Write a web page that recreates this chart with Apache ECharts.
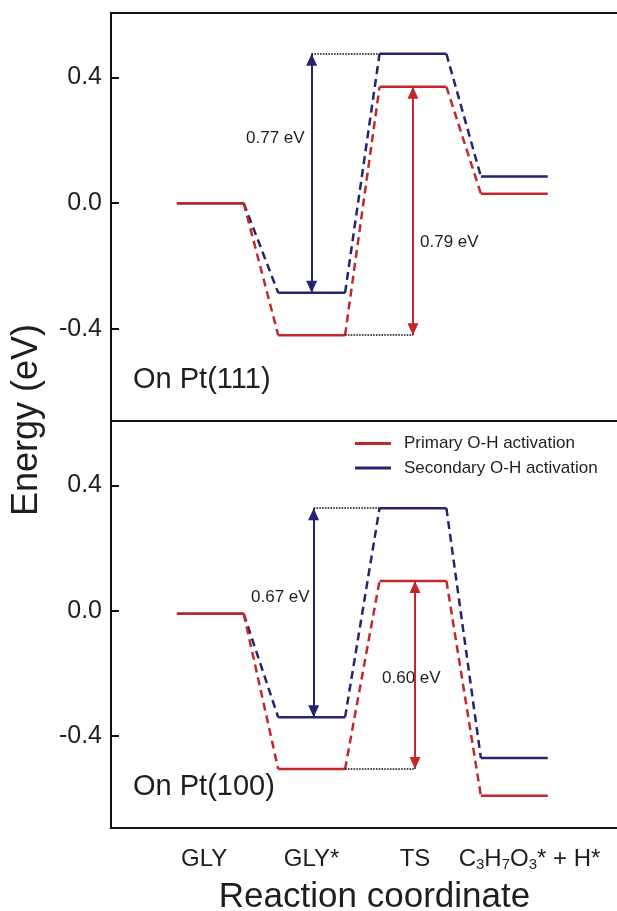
<!DOCTYPE html>
<html>
<head>
<meta charset="utf-8">
<script src="https://cdn.jsdelivr.net/npm/echarts@6/dist/echarts.min.js"></script>
<style>
  html, body { margin: 0; padding: 0; background: #fff; }
  #chart { width: 617px; height: 911px; }
</style>
</head>
<body>
<div id="chart"></div>
<script>
// data
const stages = ['GLY', 'GLY*', 'TS', 'C3H7O3* + H*'];
const pt111Primary = [0.00, -0.42, 0.37, 0.03];
const pt111Secondary = [0.00, -0.285, 0.475, 0.085];
const pt100Primary = [-0.01, -0.505, 0.095, -0.59];
const pt100Secondary = [-0.01, -0.34, 0.327, -0.47];
const barrier111 = ['0.77 eV', '0.79 eV'];
const barrier100 = ['0.67 eV', '0.60 eV'];
const yTicks = [-0.4, 0.0, 0.4];

const RED = '#c1272d';
const BLUE = '#26236f';
const INK = '#1e1e1e';
const FONT = 'Arial, "Liberation Sans", Helvetica, sans-serif';
const HALF = 0.33; // half width of a level
const X_MIN = 0.02, X_MAX = 5.043;
const labelAt = [0.94, 2.0, 3.02, 4.15]; // where the stage names sit
const HEAD = [11, 12]; // arrow head size

// level segments, broken with '-'
function levelData(vals) {
  const out = [];
  vals.forEach((v, i) => {
    if (i) out.push('-');
    out.push([i + 1 - HALF, v], [i + 1 + HALF, v]);
  });
  return out;
}

// dashed links between neighbouring levels
function linkData(vals) {
  const out = [];
  for (let i = 0; i < vals.length - 1; i++) {
    if (i) out.push('-');
    out.push([i + 1 + HALF, vals[i]], [i + 2 - HALF, vals[i + 1]]);
  }
  return out;
}

function shaftMark(color, x, y0, y1) {
  return {
    silent: true,
    animation: false,
    symbol: ['none', 'none'],
    label: { show: false },
    emphasis: { disabled: true },
    lineStyle: { color: color, width: 2, type: 'solid' },
    data: [[{ coord: [x, y0] }, { coord: [x, y1] }]]
  };
}

function dotMark(x0, x1, y) {
  return {
    silent: true,
    animation: false,
    symbol: ['none', 'none'],
    label: { show: false },
    emphasis: { disabled: true },
    lineStyle: { color: '#111', width: 1.7, type: [1.6, 1.2] },
    data: [[{ coord: [x0, y] }, { coord: [x1, y] }]]
  };
}

// two heads of a double arrow: tip up at the high end, tip down at the low end
function heads(gi, color, x, lo, hi) {
  return {
    type: 'scatter', xAxisIndex: gi, yAxisIndex: gi, silent: true, animation: false,
    symbol: 'triangle', symbolSize: HEAD,
    itemStyle: { color: color, opacity: 1 },
    data: [
      { value: [x, hi], symbolRotate: 0, symbolOffset: [0, HEAD[1] / 2] },
      { value: [x, lo], symbolRotate: 180, symbolOffset: [0, -HEAD[1] / 2] }
    ]
  };
}

function panelSeries(gi, primary, secondary, shift) {
  const base = { type: 'line', xAxisIndex: gi, yAxisIndex: gi, symbol: 'none', silent: true, animation: false };
  const blueX = 2 + shift, redX = 3 + shift;
  return [
    Object.assign({}, base, {
      name: 'Secondary O-H activation',
      data: levelData(secondary),
      lineStyle: { color: BLUE, width: 2.5 },
      itemStyle: { color: BLUE },
      markLine: shaftMark(BLUE, blueX, secondary[1], secondary[2])
    }),
    Object.assign({}, base, {
      name: 'Secondary O-H activation',
      data: linkData(secondary),
      lineStyle: { color: BLUE, width: 2.5, type: [8, 5] },
      itemStyle: { color: BLUE },
      markLine: dotMark(blueX, 3 - HALF, secondary[2])
    }),
    Object.assign({}, base, {
      name: 'Primary O-H activation',
      data: levelData(primary),
      lineStyle: { color: RED, width: 2.5 },
      itemStyle: { color: RED },
      markLine: shaftMark(RED, redX, primary[1], primary[2])
    }),
    Object.assign({}, base, {
      name: 'Primary O-H activation',
      data: linkData(primary),
      lineStyle: { color: RED, width: 2.5, type: [8, 5] },
      itemStyle: { color: RED },
      markLine: dotMark(2 + HALF, redX, primary[1])
    }),
    heads(gi, BLUE, blueX, secondary[1], secondary[2]),
    heads(gi, RED, redX, primary[1], primary[2])
  ];
}

function yAxisFor(gi) {
  return {
    type: 'value', gridIndex: gi, min: -0.693, max: 0.605,
    axisLine: { show: true, lineStyle: { color: '#111', width: 2 } },
    axisTick: { show: true, inside: true, length: 8, customValues: yTicks, lineStyle: { color: '#111', width: 2 } },
    axisLabel: { show: true, customValues: yTicks, formatter: v => v.toFixed(1), fontSize: 25, color: INK, fontFamily: FONT, margin: 9 },
    splitLine: { show: false }
  };
}

function stageLabel(v) {
  let i = 0;
  labelAt.forEach((p, k) => { if (Math.abs(p - v) < Math.abs(labelAt[i] - v)) i = k; });
  return '{a|' + stages[i].replace(/(\d+)/g, '}{s|$1}{a|') + '}';
}

function txt(text, x, y, size, extra) {
  return Object.assign({
    type: 'text', x: x, y: y, silent: true,
    style: { text: text, fontSize: size, fontFamily: FONT, fill: INK, align: 'left', verticalAlign: 'middle' }
  }, extra || {});
}

const chart = echarts.init(document.getElementById('chart'));
chart.setOption({
  animation: false,
  backgroundColor: '#fff',
  grid: [
    { left: 111, width: 509, top: 13, height: 408, show: true, borderColor: '#111', borderWidth: 2, outerBoundsMode: 'none', containLabel: false },
    { left: 111, width: 509, top: 421, height: 407, show: true, borderColor: '#111', borderWidth: 2, outerBoundsMode: 'none', containLabel: false }
  ],
  xAxis: [
    { type: 'value', gridIndex: 0, min: X_MIN, max: X_MAX, show: false },
    {
      type: 'value', gridIndex: 1, min: X_MIN, max: X_MAX,
      axisLine: { show: false }, axisTick: { show: false }, splitLine: { show: false },
      axisLabel: {
        show: true, customValues: labelAt, formatter: stageLabel, margin: 18,
        rich: {
          a: { fontSize: 24, lineHeight: 26, color: INK, fontFamily: FONT },
          s: { fontSize: 15, lineHeight: 7, verticalAlign: 'bottom', color: INK, fontFamily: FONT }
        }
      },
      name: 'Reaction coordinate', nameLocation: 'middle', nameGap: 52,
      nameTextStyle: { fontSize: 35, color: INK, fontFamily: FONT, padding: [0, 0, 0, 18] }
    }
  ],
  yAxis: [yAxisFor(0), yAxisFor(1)],
  legend: {
    data: ['Primary O-H activation', 'Secondary O-H activation'],
    orient: 'vertical', left: 355, top: 435, padding: 0,
    icon: 'rect', itemWidth: 36, itemHeight: 3, itemGap: 7.5, selectedMode: false,
    itemStyle: { borderWidth: 0 },
    textStyle: { fontSize: 17, color: INK, fontFamily: FONT, padding: [0, 0, 0, 8] }
  },
  graphic: [
    txt('Energy (eV)', 27, 420, 36, { rotation: Math.PI / 2, style: { text: 'Energy (eV)', fontSize: 36, fontFamily: FONT, fill: INK, align: 'center', verticalAlign: 'middle' } }),
    txt('On Pt(111)', 133, 380, 29),
    txt('On Pt(100)', 133, 787, 29),
    txt(barrier111[0], 246, 138, 17),
    txt(barrier111[1], 420, 242, 17),
    txt(barrier100[0], 251, 597, 17),
    txt(barrier100[1], 382, 678, 17)
  ],
  series: panelSeries(0, pt111Primary, pt111Secondary, 0).concat(panelSeries(1, pt100Primary, pt100Secondary, 0.02))
});
</script>
</body>
</html>
